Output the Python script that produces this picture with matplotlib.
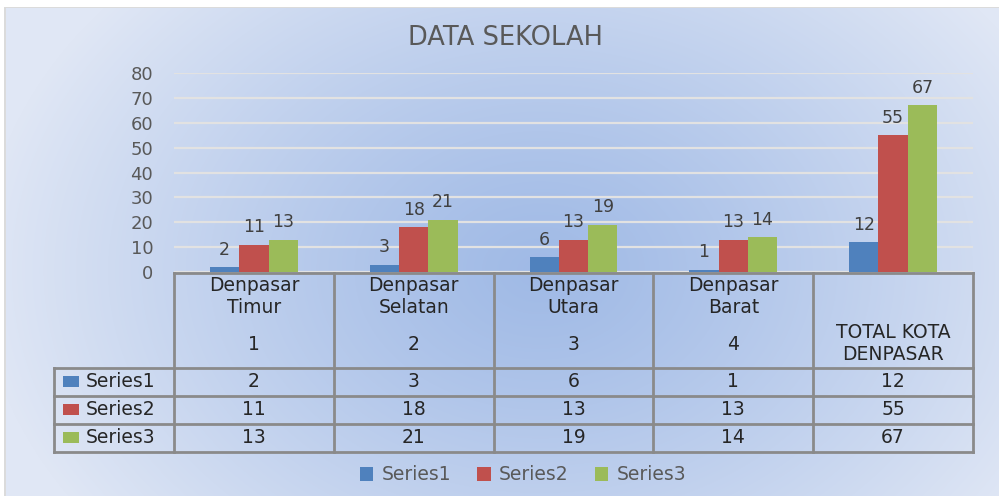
import numpy as np
import matplotlib
matplotlib.use("Agg")
import matplotlib.pyplot as plt
from matplotlib.transforms import blended_transform_factory
from matplotlib.patches import Rectangle

# ---- data ----
categories_top = ["Denpasar\nTimur", "Denpasar\nSelatan", "Denpasar\nUtara", "Denpasar\nBarat", ""]
categories_sub = ["1", "2", "3", "4", "TOTAL KOTA\nDENPASAR"]
series_names = ["Series1", "Series2", "Series3"]
series1 = [2, 3, 6, 1, 12]
series2 = [11, 18, 13, 13, 55]
series3 = [13, 21, 19, 14, 67]
yticks = [0, 10, 20, 30, 40, 50, 60, 70, 80]
title = "DATA SEKOLAH"

colors = ["#4f81bd", "#c0504d", "#9bbb59"]
W, H = 999, 496
fig = plt.figure(figsize=(W / 100, H / 100), dpi=100)

# ---- background gradient ----
bg = fig.add_axes([0, 0, 1, 1], zorder=-10)
yy, xx = np.mgrid[0:H, 0:W]
t = np.sqrt(((xx - 540) / 560.0) ** 2 + ((yy - 270) / 420.0) ** 2)
t = np.clip(t, 0, 1) ** 1.2
c_center = np.array([160, 186, 230]) / 255
c_edge = np.array([224, 231, 245]) / 255
img = c_center[None, None, :] * (1 - t[..., None]) + c_edge[None, None, :] * t[..., None]
img[:7, :, :] = 1.0
img[:, :4, :] = 1.0
img[7, 4:, :] = 0.86
img[7:, 4:6, :] = 0.86
bg.imshow(img, aspect="auto", extent=[0, W, H, 0], interpolation="bilinear")
bg.set_xlim(0, W)
bg.set_ylim(H, 0)
bg.axis("off")

# ---- main axes ----
x0, x1 = 174, 973
ytop, ybot = 73, 272
ax = fig.add_axes([x0 / W, 1 - ybot / H, (x1 - x0) / W, (ybot - ytop) / H])
ax.set_facecolor("none")
n = len(series1)
x = np.arange(n)
bw = 0.183
all_series = [series1, series2, series3]
bars = []
for i, (vals, col) in enumerate(zip(all_series, colors)):
    b = ax.bar(x + (i - 1) * bw, vals, width=bw, color=col, zorder=3, label=series_names[i])
    bars.append(b)
    for xi, v in zip(x, vals):
        ax.annotate(str(v), (xi + (i - 1) * bw, v), xytext=(0, 6), textcoords="offset points",
                    ha="center", va="bottom", fontsize=12.5, color="#404040")
ax.set_xlim(-0.5, n - 0.5)
ax.set_ylim(0, 80)
ax.set_yticks(yticks)
ax.set_yticklabels([str(v) for v in yticks], fontsize=13, color="#595959")
ax.tick_params(axis="y", length=0, pad=15)
ax.set_xticks([])
ax.grid(axis="y", color="#e2e2e2", linewidth=1.6, zorder=0)
for s in ax.spines.values():
    s.set_visible(False)

fig.text(505 / W, 1 - 38 / H, title, ha="center", va="center", fontsize=18.5, color="#595959")

# ---- data table ----
tr = blended_transform_factory(ax.transData, ax.transAxes)
hpx = ybot - ytop
def yax(py):
    return (ybot - py) / hpx

row_lines = [273, 368, 396, 424, 452]
lc = "#8a8a8a"
lw = 2.0
left_x = -0.5 - 120 / 160.0
edges = np.arange(n + 1) - 0.5
ax.plot([edges[0], edges[-1]], [yax(273)] * 2, transform=tr, color=lc, lw=lw, clip_on=False, zorder=4)
for py in row_lines[1:]:
    ax.plot([left_x, edges[-1]], [yax(py)] * 2, transform=tr, color=lc, lw=lw, clip_on=False, zorder=4)
for e in edges:
    ax.plot([e, e], [yax(273), yax(452)], transform=tr, color=lc, lw=lw, clip_on=False, zorder=4)
ax.plot([left_x, left_x], [yax(368), yax(452)], transform=tr, color=lc, lw=lw, clip_on=False, zorder=4)

tc = "#262626"
fs = 13.5
for i in range(n):
    if categories_top[i]:
        ax.text(x[i], yax(276), categories_top[i], transform=tr, ha="center", va="top",
                fontsize=fs, color=tc, linespacing=1.2)
        ax.text(x[i], yax(345), categories_sub[i], transform=tr, ha="center", va="center",
                fontsize=fs, color=tc)
    else:
        ax.text(x[i], yax(344), categories_sub[i], transform=tr, ha="center", va="center",
                fontsize=fs, color=tc, linespacing=1.2)

row_centers = [382, 410, 438]
for r, (vals, name, col) in enumerate(zip(all_series, series_names, colors)):
    yc = yax(row_centers[r])
    for i in range(n):
        ax.text(x[i], yc, str(vals[i]), transform=tr, ha="center", va="center", fontsize=fs, color=tc)
    ax.add_patch(Rectangle((left_x + 9 / 160, yc - 5.5 / hpx), 16 / 160, 11 / hpx, transform=tr,
                           facecolor=col, edgecolor="none", clip_on=False, zorder=5))
    ax.text(left_x + 32 / 160, yc, name, transform=tr, ha="left", va="center", fontsize=fs, color=tc)

# ---- legend ----
leg = fig.legend(handles=bars, labels=series_names, loc="center", bbox_to_anchor=(523 / W, 1 - 475 / H),
                 ncol=3, frameon=False, fontsize=13.5, handlelength=0.7, handleheight=0.7,
                 columnspacing=1.4, handletextpad=0.45)
for txt in leg.get_texts():
    txt.set_color("#595959")

fig.savefig("out.png", dpi=100)
